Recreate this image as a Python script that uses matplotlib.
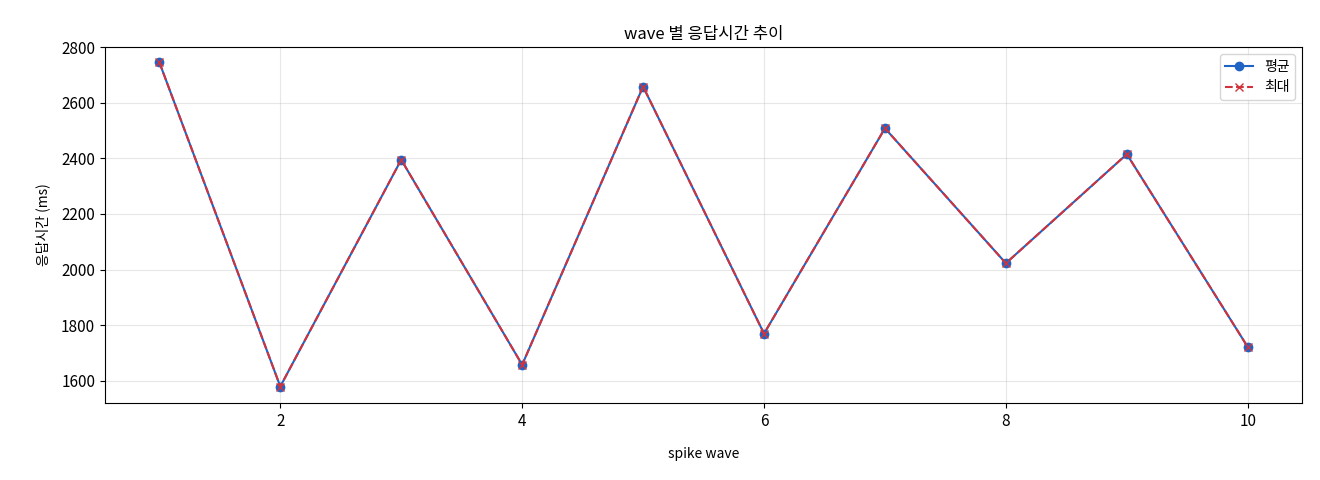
import matplotlib
matplotlib.use("Agg")
import matplotlib.pyplot as plt

plt.rcParams['font.family'] = ['Noto Sans CJK KR', 'DejaVu Sans']

waves = [1, 2, 3, 4, 5, 6, 7, 8, 9, 10]
avg_ms = [2745, 1580, 2395, 1658, 2658, 1770, 2508, 2023, 2415, 1722]
max_ms = [2745, 1580, 2395, 1658, 2658, 1770, 2508, 2023, 2415, 1722]

fig = plt.figure(figsize=(13.2, 4.8), dpi=100)
ax = fig.add_axes([0.0795, 0.16, 0.907, 0.742])
ax.plot(waves, avg_ms, marker='o', color='#1f63c4', label='평균', markersize=6)
ax.plot(waves, max_ms, marker='x', linestyle='--', color='#d0333c', label='최대', markersize=6)
ax.set_ylim(1520, 2800)
ax.set_yticks([1600, 1800, 2000, 2200, 2400, 2600, 2800])
ax.set_xticks([2, 4, 6, 8, 10])
ax.tick_params(labelsize=11)
ax.grid(True, alpha=0.3)
ax.set_title('wave 별 응답시간 추이', fontsize=12)
ax.set_xlabel('spike wave', fontsize=10, labelpad=12)
ax.set_ylabel('응답시간 (ms)', fontsize=10, labelpad=8)
ax.legend(loc='upper right')
fig.savefig('out.png', dpi=100)
